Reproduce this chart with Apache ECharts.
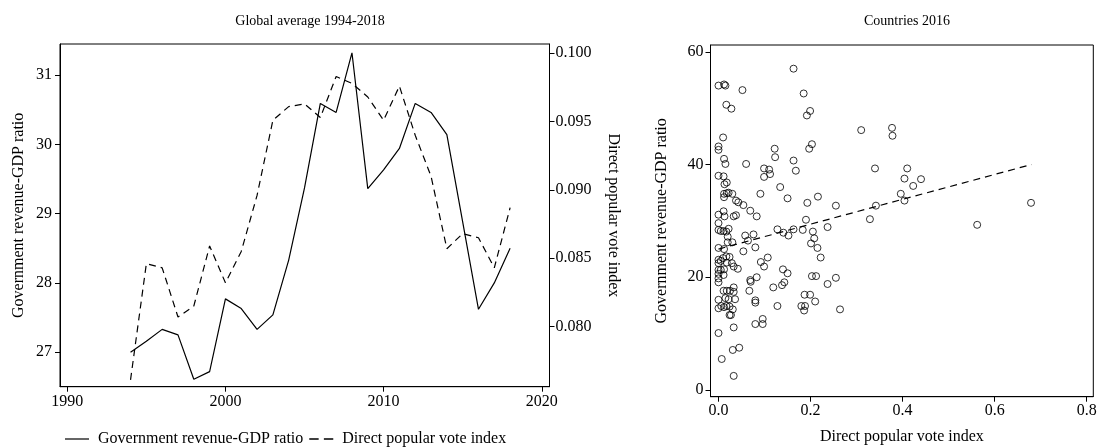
<!DOCTYPE html>
<html>
<head>
<meta charset="utf-8">
<script src="https://cdn.jsdelivr.net/npm/echarts@6/dist/echarts.min.js"></script>
<style>
html,body{margin:0;padding:0;background:#fff;}
#chart{width:1100px;height:448px;}
</style>
</head>
<body>
<div id="chart"></div>
<script>
// ---- Left panel: global averages 1994-2018 ----
const years = [1994,1995,1996,1997,1998,1999,2000,2001,2002,2003,2004,2005,2006,2007,2008,2009,2010,2011,2012,2013,2014,2015,2016,2017,2018];
const govRevenue = [27.00,27.16,27.33,27.25,26.61,26.72,27.77,27.63,27.33,27.54,28.33,29.37,30.59,30.46,31.32,29.36,29.63,29.94,30.59,30.46,30.14,28.88,27.62,28.00,28.50];
const voteIndex = [0.0761,0.0846,0.0843,0.0807,0.0815,0.0859,0.0832,0.0855,0.0896,0.0951,0.0961,0.0963,0.0953,0.0983,0.0978,0.0968,0.0951,0.0976,0.0940,0.0910,0.0857,0.0868,0.0865,0.0843,0.0887];
const yearTicks = [1990,2000,2010,2020];
const revTicksLeft = [27,28,29,30,31];
const voteTicksRight = [0.080,0.085,0.090,0.095,0.100];

// ---- Right panel: countries 2016 ----
const countryVote = [0.163,0.000,0.012,0.015,0.052,0.185,0.017,0.028,0.199,0.192,0.010,0.000,0.000,0.122,0.203,0.197,0.123,0.012,0.015,0.060,0.163,0.168,0.099,0.110,0.099,0.112,0.000,0.011,0.013,0.018,0.134,0.012,0.018,0.022,0.030,0.012,0.091,0.150,0.216,0.038,0.043,0.054,0.069,0.193,0.000,0.011,0.013,0.033,0.038,0.083,0.190,0.000,0.000,0.005,0.011,0.017,0.022,0.020,0.030,0.020,0.058,0.076,0.064,0.128,0.141,0.152,0.163,0.183,0.205,0.208,0.201,0.215,0.222,0.237,0.000,0.012,0.054,0.080,0.000,0.000,0.005,0.010,0.017,0.024,0.018,0.029,0.033,0.042,0.092,0.099,0.107,0.000,0.000,0.005,0.012,0.000,0.000,0.011,0.069,0.070,0.083,0.140,0.150,0.138,0.143,0.119,0.203,0.212,0.237,0.067,0.011,0.018,0.025,0.033,0.033,0.036,0.022,0.015,0.000,0.000,0.006,0.012,0.017,0.024,0.031,0.024,0.027,0.080,0.080,0.128,0.187,0.199,0.210,0.180,0.188,0.186,0.080,0.096,0.096,0.000,0.033,0.031,0.045,0.007,0.033,0.310,0.377,0.378,0.340,0.410,0.404,0.423,0.440,0.396,0.404,0.342,0.329,0.255,0.562,0.255,0.264,0.679];
const countryRevenue = [57.0,54.0,54.2,54.0,53.2,52.6,50.6,49.9,49.5,48.7,44.8,43.2,42.6,42.8,43.6,42.8,41.3,41.0,40.1,40.1,40.7,38.9,39.3,39.1,37.8,38.3,38.0,37.9,36.5,36.8,36.0,34.8,34.9,35.0,34.8,34.2,34.8,34.0,34.3,33.6,33.3,32.8,31.8,33.2,31.1,31.7,30.8,30.8,31.0,30.8,30.2,29.6,28.4,28.2,28.2,28.1,28.6,27.2,26.2,26.2,27.4,27.6,26.5,28.5,27.9,27.4,28.5,28.4,28.1,26.9,26.0,25.2,23.5,28.9,25.2,25.0,24.6,25.3,23.1,22.5,22.9,23.4,23.7,23.6,22.6,22.5,21.9,21.5,22.7,21.9,23.5,21.3,20.6,21.3,21.4,19.8,19.1,20.4,19.5,19.2,20.0,21.4,20.7,18.6,19.1,18.2,20.2,20.2,18.8,17.6,17.6,17.6,17.6,18.2,17.4,16.1,16.1,16.3,16.0,14.5,14.9,14.7,14.9,14.8,14.3,13.3,13.3,15.9,15.5,14.9,16.9,16.9,15.7,14.9,14.9,14.1,11.7,12.6,11.7,10.1,11.1,7.1,7.5,5.5,2.5,46.1,46.5,45.1,39.3,39.3,37.5,36.2,37.4,34.8,33.6,32.7,30.3,32.7,29.3,19.9,14.3,33.2];
const fitX = [0, 0.68];
const fitY = [25.0, 40.0];
const voteTicksX = [0,0.2,0.4,0.6,0.8];
const revTicksRight = [0,20,40,60];

const FONT = 'Liberation Serif';
const BLACK = '#000';

const chart = echarts.init(document.getElementById('chart'), null, {renderer:'canvas'});

function axisCommon(ticks, fmt, margin) {
  return {
    axisLine: {show: true, onZero: false, lineStyle: {color: BLACK, width: 1}},
    axisTick: {show: true, inside: false, length: 5, customValues: ticks, lineStyle: {color: BLACK, width: 1}},
    axisLabel: {show: true, customValues: ticks, margin: margin, color: BLACK, fontFamily: FONT, fontSize: 16, formatter: fmt},
    splitLine: {show: false},
    nameTextStyle: {color: BLACK, fontFamily: FONT, fontSize: 16}
  };
}

const option = {
  animation: false,
  backgroundColor: '#fff',
  textStyle: {fontFamily: FONT, color: BLACK},
  title: [
    {text: 'Global average 1994-2018', left: 305, top: 9, textAlign: 'center',
     textStyle: {fontFamily: FONT, fontSize: 14, fontWeight: 'normal', color: BLACK}},
    {text: 'Countries 2016', left: 902, top: 9, textAlign: 'center',
     textStyle: {fontFamily: FONT, fontSize: 14, fontWeight: 'normal', color: BLACK}}
  ],
  legend: {
    left: 60, top: 426,
    itemWidth: 24, itemHeight: 14, itemGap: 6,
    textStyle: {fontFamily: FONT, fontSize: 16, color: BLACK, padding: [0,0,0,4]},
    data: [
      {name: 'Government revenue-GDP ratio', icon: 'path://M0,0 L24,0 L24,1.2 L0,1.2 Z'},
      {name: 'Direct popular vote index', icon: 'path://M0,0 L9,0 L9,1.2 L0,1.2 Z M14,0 L23,0 L23,1.2 L14,1.2 Z'}
    ],
    itemStyle: {color: BLACK},
    selectedMode: false
  },
  grid: [
    {left: 60, top: 44, width: 489.5, height: 342.7, show: true, borderColor: BLACK, borderWidth: 1,
     backgroundColor: 'transparent', containLabel: false, outerBoundsMode: 'none'},
    {left: 710.5, top: 45, width: 382.8, height: 351.7, show: true, borderColor: BLACK, borderWidth: 1,
     backgroundColor: 'transparent', containLabel: false, outerBoundsMode: 'none'}
  ],
  xAxis: [
    Object.assign({type: 'value', gridIndex: 0, min: 1989.54, max: 2020.49}, axisCommon(yearTicks, v => String(v), 7)),
    Object.assign({type: 'value', gridIndex: 1, min: -0.0174, max: 0.8143,
      name: 'Direct popular vote index', nameLocation: 'middle', nameGap: 32},
      axisCommon(voteTicksX, v => v.toFixed(1), 6))
  ],
  yAxis: [
    Object.assign({type: 'value', gridIndex: 0, min: 26.503, max: 31.447, position: 'left',
      name: 'Government revenue-GDP ratio', nameLocation: 'middle', nameGap: 33, nameRotate: 90},
      axisCommon(revTicksLeft, v => String(v), 8)),
    Object.assign({type: 'value', gridIndex: 0, min: 0.0756, max: 0.10068, position: 'right',
      name: 'Direct popular vote index', nameLocation: 'middle', nameGap: 56, nameRotate: -90},
      axisCommon(voteTicksRight, v => v.toFixed(3), 6)),
    Object.assign({type: 'value', gridIndex: 1, min: -1.19, max: 61.2, position: 'left',
      name: 'Government revenue-GDP ratio', nameLocation: 'middle', nameGap: 41, nameRotate: 90},
      axisCommon(revTicksRight, v => String(v), 7))
  ],
  series: [
    {name: 'Government revenue-GDP ratio', type: 'line', xAxisIndex: 0, yAxisIndex: 0,
     data: years.map((y, i) => [y, govRevenue[i]]), symbol: 'none', silent: true,
     lineStyle: {color: BLACK, width: 1.2, type: 'solid'}, itemStyle: {color: BLACK}},
    {name: 'Direct popular vote index', type: 'line', xAxisIndex: 0, yAxisIndex: 1,
     data: years.map((y, i) => [y, voteIndex[i]]), symbol: 'none', silent: true,
     lineStyle: {color: BLACK, width: 1.2, type: [7, 5]}, itemStyle: {color: BLACK}},
    {name: 'countries', type: 'scatter', xAxisIndex: 1, yAxisIndex: 2,
     data: countryVote.map((x, i) => [x, countryRevenue[i]]),
     symbol: 'circle', symbolSize: 7, silent: true,
     itemStyle: {color: 'rgba(0,0,0,0)', borderColor: BLACK, borderWidth: 1}},
    {name: 'fit', type: 'line', xAxisIndex: 1, yAxisIndex: 2,
     data: fitX.map((x, i) => [x, fitY[i]]), symbol: 'none', silent: true,
     lineStyle: {color: BLACK, width: 1.2, type: [7, 5]}}
  ]
};
chart.setOption(option);
</script>
</body>
</html>
